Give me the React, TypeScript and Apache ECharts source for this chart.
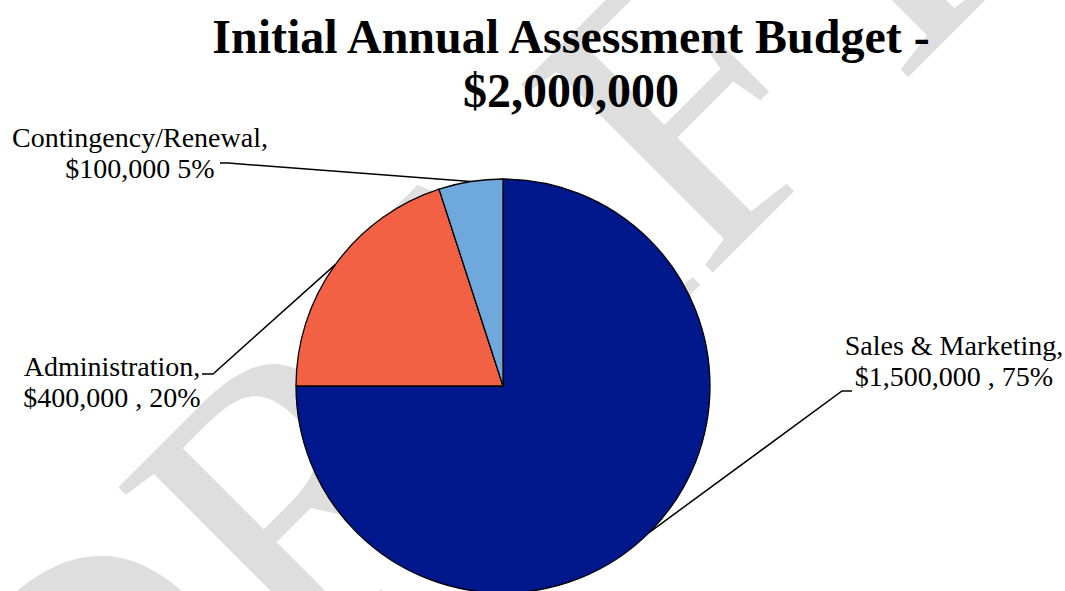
import React, { useEffect, useRef } from "react";
import * as echarts from "echarts";

const titleLines = ["Initial Annual Assessment Budget -", "$2,000,000"];
const categories = ["Sales & Marketing", "Administration", "Contingency/Renewal"];
const values = [1500000, 400000, 100000];
const separators = [" , ", " , ", " "];
const colors = ["#00188C", "#F26144", "#6FA8DC"];
const watermarkText = "DRAFT";

// label anchor (center) and leader-line elbow/end per slice
const labelPos = [
  { x: 954, y: 361, elbow: [842, 391], end: [852, 391] },
  { x: 112, y: 382, elbow: [213, 374], end: [202, 374] },
  { x: 140, y: 153, elbow: [228, 163], end: [220, 163] },
];

export default function App() {
  const ref = useRef<HTMLDivElement>(null);
  useEffect(() => {
    if (!ref.current) return;
    const chart = echarts.init(ref.current, null, { renderer: "svg" });
    const fmt = (v: number) => "$" + v.toLocaleString("en-US");
    chart.setOption({
      animation: false,
      backgroundColor: "#ffffff",
      title: {
        text: titleLines.join("\n"),
        left: 566,
        textAlign: "center",
        top: 4,
        textStyle: {
          fontFamily: "Liberation Serif",
          fontWeight: "bold",
          fontSize: 48,
          lineHeight: 54,
          color: "#000",
        },
      },
      graphic: [
        {
          type: "text",
          z: 0,
          silent: true,
          x: 468,
          y: 322,
          rotation: Math.PI / 4,
          style: {
            text: watermarkText,
            fontFamily: "Liberation Serif",
            fontSize: 410,
            fill: "#dedede",
            align: "center",
            verticalAlign: "middle",
          },
        },
      ],
      series: [
        {
          type: "pie",
          z: 2,
          center: [503, 386],
          radius: 207,
          startAngle: 90,
          clockwise: true,
          data: categories.map((c, i) => ({
            name: c,
            value: values[i],
            itemStyle: { color: colors[i] },
          })),
          itemStyle: { borderColor: "#000", borderWidth: 1.3 },
          label: {
            show: true,
            position: "outside",
            fontFamily: "Liberation Serif",
            fontSize: 28,
            lineHeight: 31,
            color: "#000",
            align: "center",
            formatter: (p: any) =>
              `${p.name},\n${fmt(p.value)}${separators[p.dataIndex]}${Math.round(p.percent)}%`,
          },
          labelLine: {
            show: true,
            lineStyle: { color: "#000", width: 1.5 },
          },
          emphasis: { disabled: true },
          labelLayout: (params: any) => {
            const lp = labelPos[params.dataIndex];
            const start = params.labelLinePoints
              ? params.labelLinePoints[0]
              : [0, 0];
            return {
              x: lp.x,
              y: lp.y,
              align: "center",
              verticalAlign: "middle",
              labelLinePoints: [start, lp.elbow, lp.end],
            };
          },
        },
      ],
    });
    return () => chart.dispose();
  }, []);
  return (
    <div
      ref={ref}
      style={{ position: "absolute", left: 0, top: 0, width: 1065, height: 591 }}
    />
  );
}
